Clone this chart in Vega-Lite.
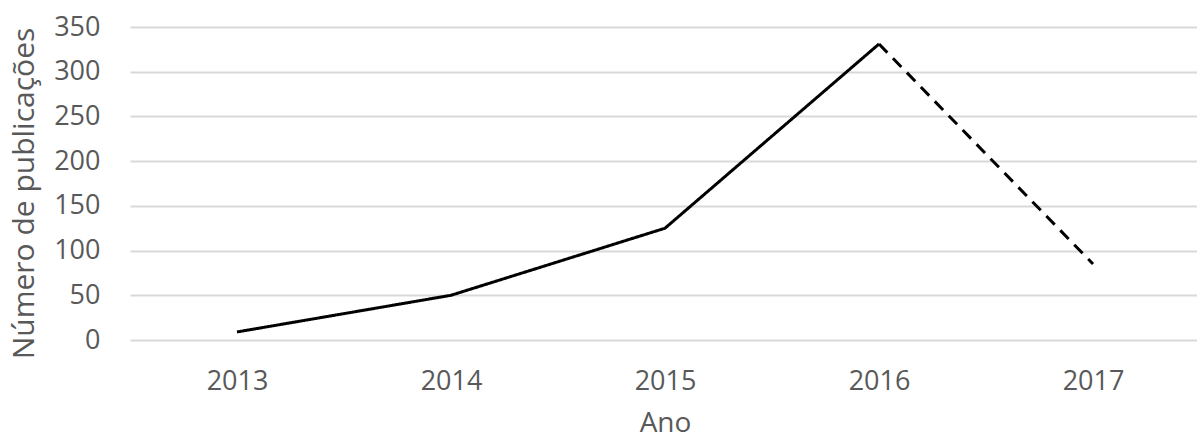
{
  "$schema": "https://vega.github.io/schema/vega-lite/v6.json",
  "width": 1070,
  "height": 313,
  "autosize": {"type": "none"},
  "padding": {"left": 130, "top": 27, "right": 0, "bottom": 103},
  "background": "white",
  "config": {
    "view": {"stroke": null},
    "font": "Open Sans",
    "axis": {"labelColor": "#595959", "titleColor": "#595959", "labelFont": "Open Sans", "titleFont": "Open Sans", "titleFontWeight": "normal"}
  },
  "data": {
    "values": [
      {"ano": "2013", "publicacoes": 9, "trecho": "a"},
      {"ano": "2014", "publicacoes": 50, "trecho": "a"},
      {"ano": "2015", "publicacoes": 125, "trecho": "a"},
      {"ano": "2016", "publicacoes": 331, "trecho": "a"},
      {"ano": "2016", "publicacoes": 331, "trecho": "b"},
      {"ano": "2017", "publicacoes": 85, "trecho": "b"}
    ]
  },
  "mark": {"type": "line", "color": "black", "strokeWidth": 3, "strokeCap": "butt"},
  "encoding": {
    "x": {
      "field": "ano", "type": "ordinal",
      "scale": {"type": "point", "padding": 0.5},
      "axis": {"title": "Ano", "labelAngle": 0, "labelFontSize": 27, "titleFontSize": 28, "domain": false, "ticks": false, "labelPadding": 28, "titlePadding": 15, "grid": false}
    },
    "y": {
      "field": "publicacoes", "type": "quantitative",
      "scale": {"domain": [0, 350]},
      "axis": {"title": "Número de publicações", "values": [0, 50, 100, 150, 200, 250, 300, 350], "labelFontSize": 27, "titleFontSize": 30, "titleY": 166, "domain": false, "ticks": false, "labelPadding": 30, "titlePadding": 14, "gridColor": "#d9d9d9", "gridWidth": 2}
    },
    "strokeDash": {
      "field": "trecho", "type": "nominal",
      "scale": {"domain": ["a", "b"], "range": [[1, 0], [12, 8]]},
      "legend": null
    },
    "detail": {"field": "trecho"}
  }
}
